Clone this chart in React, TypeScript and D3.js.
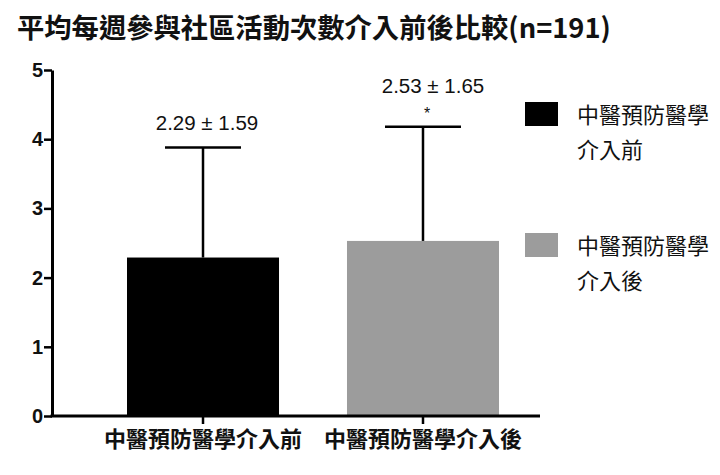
import React, { useEffect, useRef } from 'react'
import * as d3 from 'd3'

const categories = ['中醫預防醫學介入前', '中醫預防醫學介入後']
const means = [2.29, 2.53]
const sds = [1.59, 1.65]
const valueLabels = ['2.29 ± 1.59', '2.53 ± 1.65']
const marks = ['', '*']
const legendLines = [['中醫預防醫學', '介入前'], ['中醫預防醫學', '介入後']]
const colors = ['#000000', '#9c9c9c']
const yTicks = [0, 1, 2, 3, 4, 5]

const W = 720
const H = 475
const font = '"Noto Sans CJK TC", "Noto Sans", sans-serif'
const latin = '"Liberation Sans", Arial, sans-serif'

const App = () => {
  const ref = useRef<SVGSVGElement>(null)

  useEffect(() => {
    const svg = d3.select(ref.current)
    svg.selectAll('*').remove()

    const y = d3.scaleLinear().domain([0, 5]).range([416, 70])
    const x = d3.scaleBand().domain(categories).range([127, 499]).paddingInner(0.309).paddingOuter(0)

    // title
    svg.append('text')
      .attr('x', 17).attr('y', 38)
      .attr('font-family', font).attr('font-size', 27.3).attr('font-weight', 'bold')
      .attr('fill', '#111')
      .text('平均每週參與社區活動次數介入前後比較(n=191)')

    // bars
    svg.append('g').selectAll('rect')
      .data(categories)
      .join('rect')
      .attr('x', d => x(d)!)
      .attr('y', (d, i) => y(means[i]))
      .attr('width', x.bandwidth())
      .attr('height', (d, i) => y(0) - y(means[i]))
      .attr('fill', (d, i) => colors[i])

    // error bars
    const eb = svg.append('g')
    categories.forEach((c, i) => {
      const cx = x(c)! + x.bandwidth() / 2
      const top = y(means[i] + sds[i])
      eb.append('line')
        .attr('x1', cx).attr('x2', cx)
        .attr('y1', y(means[i])).attr('y2', top)
        .attr('stroke', '#000').attr('stroke-width', 2.5)
      eb.append('line')
        .attr('x1', cx - 38).attr('x2', cx + 38)
        .attr('y1', top).attr('y2', top)
        .attr('stroke', '#000').attr('stroke-width', 2.5)
      eb.append('text')
        .attr('x', cx + 4 + i * 6).attr('y', top - (marks[i] ? 34 : 18))
        .attr('text-anchor', 'middle')
        .attr('font-family', latin).attr('font-size', 20.5)
        .attr('fill', '#111')
        .text(valueLabels[i])
      if (marks[i]) {
        eb.append('text')
          .attr('x', cx + 4).attr('y', top - 8)
          .attr('text-anchor', 'middle')
          .attr('font-family', latin).attr('font-size', 16)
          .attr('fill', '#111')
          .text(marks[i])
      }
    })

    // y axis
    const ya = svg.append('g').attr('transform', 'translate(52,0)')
      .call(d3.axisLeft(y).tickValues(yTicks).tickFormat(d3.format('d')).tickSize(8).tickSizeOuter(0))
    ya.select('.domain').attr('stroke', '#000').attr('stroke-width', 3)
    ya.selectAll('.tick line').attr('stroke', '#000').attr('stroke-width', 2.5)
    ya.selectAll('.tick text')
      .attr('font-family', latin).attr('font-size', 20)
      .attr('font-weight', 'bold').attr('fill', '#111').attr('x', -9)

    // x axis
    const xa = svg.append('g').attr('transform', 'translate(0,416)')
      .call(d3.axisBottom(x).tickSize(8).tickSizeOuter(0))
    xa.select('.domain').attr('d', `M50.5,0H540`).attr('stroke', '#000').attr('stroke-width', 3)
    xa.selectAll('.tick line').attr('stroke', '#000').attr('stroke-width', 2.5)
    xa.selectAll('.tick text')
      .attr('font-family', font).attr('font-size', 22)
      .attr('font-weight', 'bold').attr('fill', '#111').attr('y', 15)

    // legend
    const lg = svg.append('g')
    legendLines.forEach((lines, i) => {
      const top = 102 + i * 131
      lg.append('rect')
        .attr('x', 525).attr('y', top).attr('width', 33).attr('height', 24)
        .attr('fill', colors[i])
      lines.forEach((t, j) => {
        lg.append('text')
          .attr('x', 577).attr('y', top + 21 + j * 35)
          .attr('font-family', font).attr('font-size', 22)
          .attr('fill', '#111')
          .text(t)
      })
    })
  }, [])

  return (
    <svg ref={ref} width={W} height={H} style={{ position: 'absolute', left: 0, top: 0, background: '#fff' }} />
  )
}

export default App
